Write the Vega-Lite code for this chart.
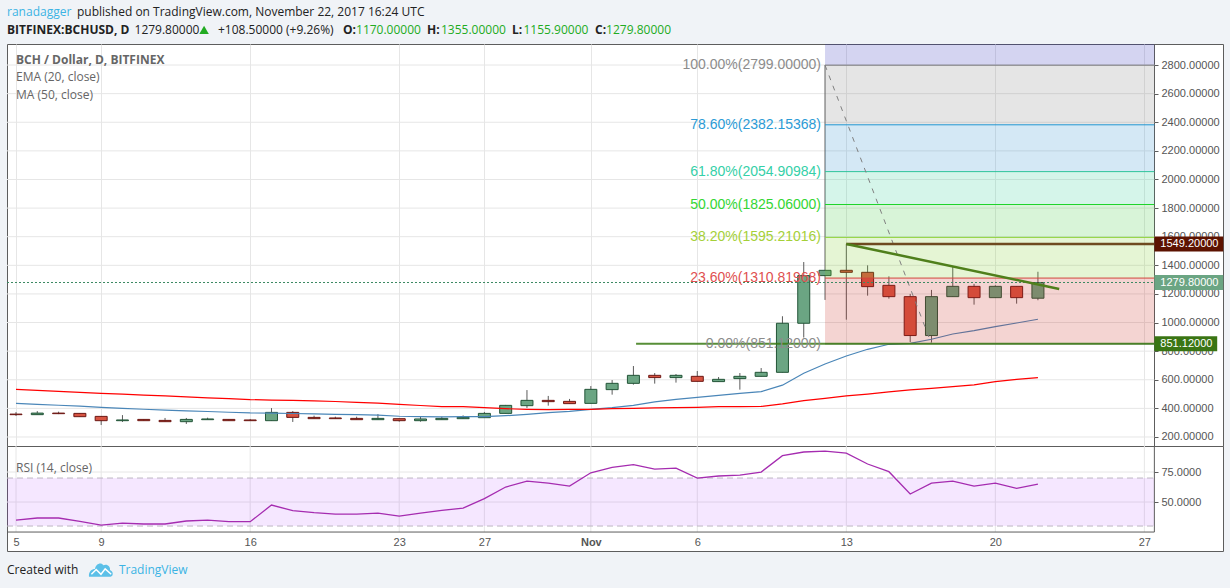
{"$schema":"https://vega.github.io/schema/vega-lite/v6.json","background":"#f0f3f7","padding":{"left":6,"top":5,"right":8,"bottom":10},"spacing":0,"bounds":"flush",
"config":{"font":"Liberation Sans","axis":{"title":null,"grid":false},"text":{"font":"Liberation Sans"}},
"datasets":{
"candles":[
{"date":"2017-10-05","open":360,"high":374,"low":347,"close":356,"dir":"down"},
{"date":"2017-10-06","open":356,"high":381,"low":356,"close":367,"dir":"up"},
{"date":"2017-10-07","open":367,"high":377,"low":360,"close":363,"dir":"down"},
{"date":"2017-10-08","open":365,"high":367,"low":340,"close":342,"dir":"down"},
{"date":"2017-10-09","open":344,"high":346,"low":284,"close":314,"dir":"down"},
{"date":"2017-10-10","open":314,"high":353,"low":305,"close":319,"dir":"up"},
{"date":"2017-10-11","open":323,"high":324,"low":313,"close":314,"dir":"down"},
{"date":"2017-10-12","open":316,"high":333,"low":307,"close":307,"dir":"down"},
{"date":"2017-10-13","open":307,"high":333,"low":291,"close":323,"dir":"up"},
{"date":"2017-10-14","open":321,"high":335,"low":320,"close":326,"dir":"up"},
{"date":"2017-10-15","open":323,"high":324,"low":313,"close":314,"dir":"down"},
{"date":"2017-10-16","open":319,"high":326,"low":313,"close":314,"dir":"down"},
{"date":"2017-10-17","open":314,"high":402,"low":314,"close":372,"dir":"up"},
{"date":"2017-10-18","open":372,"high":381,"low":305,"close":337,"dir":"down"},
{"date":"2017-10-19","open":337,"high":349,"low":327,"close":328,"dir":"down"},
{"date":"2017-10-20","open":333,"high":342,"low":327,"close":328,"dir":"down"},
{"date":"2017-10-21","open":330,"high":342,"low":320,"close":321,"dir":"down"},
{"date":"2017-10-22","open":321,"high":360,"low":319,"close":330,"dir":"up"},
{"date":"2017-10-23","open":328,"high":329,"low":307,"close":314,"dir":"down"},
{"date":"2017-10-24","open":314,"high":342,"low":307,"close":326,"dir":"up"},
{"date":"2017-10-25","open":321,"high":342,"low":320,"close":330,"dir":"up"},
{"date":"2017-10-26","open":328,"high":351,"low":327,"close":337,"dir":"up"},
{"date":"2017-10-27","open":335,"high":375,"low":334,"close":365,"dir":"up"},
{"date":"2017-10-28","open":365,"high":424,"low":364,"close":421,"dir":"up"},
{"date":"2017-10-29","open":419,"high":528,"low":403,"close":456,"dir":"up"},
{"date":"2017-10-30","open":456,"high":487,"low":419,"close":447,"dir":"down"},
{"date":"2017-10-31","open":449,"high":466,"low":432,"close":433,"dir":"down"},
{"date":"2017-11-01","open":435,"high":556,"low":434,"close":533,"dir":"up"},
{"date":"2017-11-02","open":531,"high":598,"low":496,"close":575,"dir":"up"},
{"date":"2017-11-03","open":575,"high":696,"low":566,"close":631,"dir":"up"},
{"date":"2017-11-04","open":631,"high":647,"low":573,"close":615,"dir":"down"},
{"date":"2017-11-05","open":615,"high":640,"low":580,"close":631,"dir":"up"},
{"date":"2017-11-06","open":624,"high":661,"low":588,"close":589,"dir":"down"},
{"date":"2017-11-07","open":587,"high":619,"low":586,"close":603,"dir":"up"},
{"date":"2017-11-08","open":608,"high":647,"low":531,"close":624,"dir":"up"},
{"date":"2017-11-09","open":624,"high":682,"low":623,"close":652,"dir":"up"},
{"date":"2017-11-10","open":652,"high":1044,"low":651,"close":995,"dir":"up"},
{"date":"2017-11-11","open":995,"high":1423,"low":895,"close":1328,"dir":"up"},
{"date":"2017-11-12","open":1328,"high":2799,"low":1158,"close":1365,"dir":"up"},
{"date":"2017-11-13","open":1365,"high":1549,"low":1020,"close":1351,"dir":"down"},
{"date":"2017-11-14","open":1351,"high":1400,"low":1188,"close":1251,"dir":"down"},
{"date":"2017-11-15","open":1260,"high":1323,"low":1167,"close":1181,"dir":"down"},
{"date":"2017-11-16","open":1181,"high":1200,"low":864,"close":909,"dir":"down"},
{"date":"2017-11-17","open":909,"high":1228,"low":860,"close":1181,"dir":"up"},
{"date":"2017-11-18","open":1181,"high":1391,"low":1180,"close":1253,"dir":"up"},
{"date":"2017-11-19","open":1253,"high":1270,"low":1125,"close":1174,"dir":"down"},
{"date":"2017-11-20","open":1174,"high":1260,"low":1173,"close":1253,"dir":"up"},
{"date":"2017-11-21","open":1253,"high":1254,"low":1132,"close":1174,"dir":"down"},
{"date":"2017-11-22","open":1170,"high":1355,"low":1155.9,"close":1279.8,"dir":"up"}],
"ema":[
{"date":"2017-10-05","price":435},{"date":"2017-10-06","price":428},{"date":"2017-10-07","price":422},{"date":"2017-10-08","price":416},{"date":"2017-10-09","price":407},{"date":"2017-10-10","price":400},{"date":"2017-10-11","price":394},{"date":"2017-10-12","price":388},{"date":"2017-10-13","price":383},{"date":"2017-10-14","price":378},{"date":"2017-10-15","price":373},{"date":"2017-10-16","price":368},{"date":"2017-10-17","price":367},{"date":"2017-10-18","price":364},{"date":"2017-10-19","price":361},{"date":"2017-10-20","price":358},{"date":"2017-10-21","price":356},{"date":"2017-10-22","price":353},{"date":"2017-10-23","price":345},{"date":"2017-10-24","price":342},{"date":"2017-10-25","price":341},{"date":"2017-10-26","price":342},{"date":"2017-10-27","price":342},{"date":"2017-10-28","price":349},{"date":"2017-10-29","price":358},{"date":"2017-10-30","price":370},{"date":"2017-10-31","price":379},{"date":"2017-11-01","price":393},{"date":"2017-11-02","price":405},{"date":"2017-11-03","price":421},{"date":"2017-11-04","price":445},{"date":"2017-11-05","price":463},{"date":"2017-11-06","price":477},{"date":"2017-11-07","price":491},{"date":"2017-11-08","price":505},{"date":"2017-11-09","price":517},{"date":"2017-11-10","price":562},{"date":"2017-11-11","price":645},{"date":"2017-11-12","price":710},{"date":"2017-11-13","price":766},{"date":"2017-11-14","price":813},{"date":"2017-11-15","price":848},{"date":"2017-11-16","price":855},{"date":"2017-11-17","price":883},{"date":"2017-11-18","price":920},{"date":"2017-11-19","price":943},{"date":"2017-11-20","price":971},{"date":"2017-11-21","price":997},{"date":"2017-11-22","price":1023}],
"ma":[
{"date":"2017-10-05","price":533},{"date":"2017-10-06","price":526},{"date":"2017-10-07","price":519},{"date":"2017-10-08","price":512},{"date":"2017-10-09","price":505},{"date":"2017-10-10","price":499},{"date":"2017-10-11","price":493},{"date":"2017-10-12","price":487},{"date":"2017-10-13","price":480},{"date":"2017-10-14","price":474},{"date":"2017-10-15","price":468},{"date":"2017-10-16","price":461},{"date":"2017-10-17","price":458},{"date":"2017-10-18","price":456},{"date":"2017-10-19","price":452},{"date":"2017-10-20","price":448},{"date":"2017-10-21","price":442},{"date":"2017-10-22","price":437},{"date":"2017-10-23","price":428},{"date":"2017-10-24","price":420},{"date":"2017-10-25","price":412},{"date":"2017-10-26","price":412},{"date":"2017-10-27","price":405},{"date":"2017-10-28","price":398},{"date":"2017-10-29","price":393},{"date":"2017-10-30","price":391},{"date":"2017-10-31","price":393},{"date":"2017-11-01","price":393},{"date":"2017-11-02","price":398},{"date":"2017-11-03","price":400},{"date":"2017-11-04","price":403},{"date":"2017-11-05","price":405},{"date":"2017-11-06","price":407},{"date":"2017-11-07","price":412},{"date":"2017-11-08","price":412},{"date":"2017-11-09","price":414},{"date":"2017-11-10","price":431},{"date":"2017-11-11","price":454},{"date":"2017-11-12","price":470},{"date":"2017-11-13","price":487},{"date":"2017-11-14","price":500},{"date":"2017-11-15","price":515},{"date":"2017-11-16","price":529},{"date":"2017-11-17","price":540},{"date":"2017-11-18","price":552},{"date":"2017-11-19","price":564},{"date":"2017-11-20","price":587},{"date":"2017-11-21","price":603},{"date":"2017-11-22","price":615}],
"fib":[
{"date":"2017-11-12","end":"2017-11-27T11:16:00Z","level":"ext","price":2947,"lo":2799},
{"date":"2017-11-12","end":"2017-11-27T11:16:00Z","level":"100","price":2799,"lo":2382.15368,"label":"100.00%(2799.00000)"},
{"date":"2017-11-12","end":"2017-11-27T11:16:00Z","level":"78.6","price":2382.15368,"lo":2054.90984,"label":"78.60%(2382.15368)"},
{"date":"2017-11-12","end":"2017-11-27T11:16:00Z","level":"61.8","price":2054.90984,"lo":1825.06,"label":"61.80%(2054.90984)"},
{"date":"2017-11-12","end":"2017-11-27T11:16:00Z","level":"50","price":1825.06,"lo":1595.21016,"label":"50.00%(1825.06000)"},
{"date":"2017-11-12","end":"2017-11-27T11:16:00Z","level":"38.2","price":1595.21016,"lo":1310.81968,"label":"38.20%(1595.21016)"},
{"date":"2017-11-12","end":"2017-11-27T11:16:00Z","level":"23.6","price":1310.81968,"lo":851.12,"label":"23.60%(1310.81968)"},
{"date":"2017-11-12","end":"2017-11-27T11:16:00Z","level":"0","price":851.12,"lo":851.12,"label":"0.00%(851.12000)"}],
"hgrid":[
{"date":"2017-10-04T13:51:00Z","end":"2017-11-27T11:16:00Z","price":200},{"date":"2017-10-04T13:51:00Z","end":"2017-11-27T11:16:00Z","price":400},{"date":"2017-10-04T13:51:00Z","end":"2017-11-27T11:16:00Z","price":600},{"date":"2017-10-04T13:51:00Z","end":"2017-11-27T11:16:00Z","price":800},{"date":"2017-10-04T13:51:00Z","end":"2017-11-27T11:16:00Z","price":1000},{"date":"2017-10-04T13:51:00Z","end":"2017-11-27T11:16:00Z","price":1200},{"date":"2017-10-04T13:51:00Z","end":"2017-11-27T11:16:00Z","price":1400},{"date":"2017-10-04T13:51:00Z","end":"2017-11-27T11:16:00Z","price":1600},{"date":"2017-10-04T13:51:00Z","end":"2017-11-27T11:16:00Z","price":1800},{"date":"2017-10-04T13:51:00Z","end":"2017-11-27T11:16:00Z","price":2000},{"date":"2017-10-04T13:51:00Z","end":"2017-11-27T11:16:00Z","price":2200},{"date":"2017-10-04T13:51:00Z","end":"2017-11-27T11:16:00Z","price":2400},{"date":"2017-10-04T13:51:00Z","end":"2017-11-27T11:16:00Z","price":2600},{"date":"2017-10-04T13:51:00Z","end":"2017-11-27T11:16:00Z","price":2800}],
"levels":[
{"date":"2017-11-13","end":"2017-11-27T11:16:00Z","price":1549.2,"boxEnd":"2017-11-30T16:54:00Z","boxStart":"2017-11-27T11:16:00Z","tag":"res"},
{"date":"2017-10-04T13:51:00Z","end":"2017-11-27T11:16:00Z","price":1279.8,"boxEnd":"2017-11-30T16:54:00Z","boxStart":"2017-11-27T11:16:00Z","tag":"last"},
{"date":"2017-11-03T03:00:00Z","end":"2017-11-27T11:16:00Z","price":851.12,"boxEnd":"2017-11-30T10:06:00Z","boxStart":"2017-11-27T11:16:00Z","tag":"sup"}],
"trend":[{"date":"2017-11-13","price":1549.2},{"date":"2017-11-23","price":1235}],
"swing":[{"date":"2017-11-12","price":2799},{"date":"2017-11-17","price":851.12}],
"topText":[
{"date":"2017-10-04T13:54:00Z","price":3170,"text":"ranadagger","kind":"name"},
{"date":"2017-10-07T20:46:00Z","price":3170,"text":"published on TradingView.com, November 22, 2017 16:24 UTC","kind":"dark"},
{"date":"2017-10-10T13:36:00Z","price":3045,"text":"1279.80000","kind":"dark"},
{"date":"2017-10-14T11:42:00Z","price":3045,"text":"+108.50000 (+9.26%)","kind":"dark"},
{"date":"2017-10-20T23:18:00Z","price":3045,"text":"1170.00000","kind":"green"},
{"date":"2017-10-24T23:06:00Z","price":3045,"text":"1355.00000","kind":"green"},
{"date":"2017-10-28T20:06:00Z","price":3045,"text":"1155.90000","kind":"green"},
{"date":"2017-11-01T17:12:00Z","price":3045,"text":"1279.80000","kind":"green"},
{"date":"2017-10-05T00:00:00Z","price":2716,"text":"EMA (20, close)","kind":"grey"},
{"date":"2017-10-05T00:00:00Z","price":2590,"text":"MA (50, close)","kind":"grey"}],
"boldText":[
{"date":"2017-10-04T13:54:00Z","price":3045,"text":"BITFINEX:BCHUSD, D","kind":"dark"},
{"date":"2017-10-20T08:42:00Z","price":3045,"text":"O:","kind":"dark"},
{"date":"2017-10-24T07:24:00Z","price":3045,"text":"H:","kind":"dark"},
{"date":"2017-10-28T07:12:00Z","price":3045,"text":"L:","kind":"dark"},
{"date":"2017-11-01T04:48:00Z","price":3045,"text":"C:","kind":"dark"},
{"date":"2017-10-05T00:00:00Z","price":2835,"text":"BCH / Dollar, D, BITFINEX","kind":"grey"}],
"rsi":[
{"date":"2017-10-05","rsi":35},{"date":"2017-10-06","rsi":36.7},{"date":"2017-10-07","rsi":36.7},{"date":"2017-10-08","rsi":33.9},{"date":"2017-10-09","rsi":30.8},{"date":"2017-10-10","rsi":32.5},{"date":"2017-10-11","rsi":31.7},{"date":"2017-10-12","rsi":31.7},{"date":"2017-10-13","rsi":34.2},{"date":"2017-10-14","rsi":35},{"date":"2017-10-15","rsi":33.6},{"date":"2017-10-16","rsi":33.6},{"date":"2017-10-17","rsi":47.5},{"date":"2017-10-18","rsi":42.8},{"date":"2017-10-19","rsi":41.1},{"date":"2017-10-20","rsi":40},{"date":"2017-10-21","rsi":40},{"date":"2017-10-22","rsi":40.8},{"date":"2017-10-23","rsi":38.3},{"date":"2017-10-24","rsi":40.8},{"date":"2017-10-25","rsi":43},{"date":"2017-10-26","rsi":45},{"date":"2017-10-27","rsi":52.8},{"date":"2017-10-28","rsi":62.5},{"date":"2017-10-29","rsi":67.5},{"date":"2017-10-30","rsi":65.8},{"date":"2017-10-31","rsi":63.3},{"date":"2017-11-01","rsi":74.4},{"date":"2017-11-02","rsi":78.9},{"date":"2017-11-03","rsi":81.1},{"date":"2017-11-04","rsi":77.5},{"date":"2017-11-05","rsi":78.3},{"date":"2017-11-06","rsi":70},{"date":"2017-11-07","rsi":71.7},{"date":"2017-11-08","rsi":72.5},{"date":"2017-11-09","rsi":75},{"date":"2017-11-10","rsi":88.6},{"date":"2017-11-11","rsi":91.7},{"date":"2017-11-12","rsi":92.5},{"date":"2017-11-13","rsi":90.8},{"date":"2017-11-14","rsi":81.7},{"date":"2017-11-15","rsi":75.3},{"date":"2017-11-16","rsi":56.7},{"date":"2017-11-17","rsi":65.8},{"date":"2017-11-18","rsi":67.5},{"date":"2017-11-19","rsi":63.3},{"date":"2017-11-20","rsi":65.8},{"date":"2017-11-21","rsi":61.4},{"date":"2017-11-22","rsi":65}],
"rsiBand":[{"date":"2017-10-04T13:51:00Z","end":"2017-11-27T11:16:00Z","rsi":70,"lo":30}],
"rsiGrid":[{"date":"2017-10-04T13:51:00Z","end":"2017-11-27T11:16:00Z","rsi":75},{"date":"2017-10-04T13:51:00Z","end":"2017-11-27T11:16:00Z","rsi":50}],
"rsiDash":[{"date":"2017-10-04T13:51:00Z","end":"2017-11-27T11:16:00Z","rsi":70},{"date":"2017-10-04T13:51:00Z","end":"2017-11-27T11:16:00Z","rsi":30}],
"rsiBase":[{"date":"2017-10-04T13:51:00Z","end":"2017-11-27T11:16:00Z","rsi":25}],
"xticks":[{"date":"2017-10-05","rsi":25,"hi":96.7},{"date":"2017-10-09","rsi":25,"hi":96.7},{"date":"2017-10-16","rsi":25,"hi":96.7},{"date":"2017-10-23","rsi":25,"hi":96.7},{"date":"2017-10-27","rsi":25,"hi":96.7},{"date":"2017-11-01","rsi":25,"hi":96.7},{"date":"2017-11-06","rsi":25,"hi":96.7},{"date":"2017-11-13","rsi":25,"hi":96.7},{"date":"2017-11-20","rsi":25,"hi":96.7},{"date":"2017-11-27","rsi":25,"hi":96.7}],
"divider":[{"date":"2017-11-27T11:16:00Z","rsi":25,"hi":96.7}],
"rsiText":[
{"date":"2017-10-05T00:00:00Z","rsi":78.3,"text":"RSI (14, close)","kind":"grey"},
{"date":"2017-10-04T13:54:00Z","rsi":-6.7,"text":"Created with","kind":"dark"},
{"date":"2017-10-09T20:00:00Z","rsi":-6.7,"text":"TradingView","kind":"name"}],
"logo":[{"date":"2017-10-08T23:48:00Z","rsi":-6.7}]
},
"resolve":{"scale":{"x":"independent"}},
"vconcat":[
{"width":1216,"height":402,"view":{"stroke":"#5d5d5d","strokeWidth":1,"fill":"#ffffff"},
"resolve":{"scale":{"color":"independent","fill":"independent","stroke":"independent"}},
"encoding":{
"x":{"field":"date","type":"temporal","scale":{"type":"utc","domain":[1507125060000,1512059860000],"nice":false,"padding":0},
 "axis":{"title":null,"values":[1507161600000,1507507200000,1508112000000,1508716800000,1509062400000,1509494400000,1509926400000,1510531200000,1511136000000,1511740800000],"grid":true,"gridColor":"#e6e6e6","labels":false,"ticks":false,"domain":false}},
"y":{"field":"price","type":"quantitative","scale":{"domain":[137,2947],"nice":false,"zero":false,"padding":0},
 "axis":{"title":null,"orient":"right","offset":-69,"values":[200,400,600,800,1000,1200,1400,1600,1800,2000,2200,2400,2600,2800],"format":".5f","labelColor":"#555555","labelFontSize":11,"tickColor":"#5d5d5d","tickSize":4,"labelPadding":3,"domainColor":"#5d5d5d"}}},
"layer":[
{"data":{"name":"hgrid","format":{"parse":{"end":"date","date":"date"}}},"mark":{"type":"rule","color":"#e6e6e6","strokeWidth":1},"encoding":{"x2":{"field":"end"}}},
{"data":{"name":"candles"},"mark":{"type":"rule","color":"#5b5b5b","strokeWidth":1},"encoding":{"y":{"field":"low","type":"quantitative"},"y2":{"field":"high"}}},
{"data":{"name":"candles"},"mark":{"type":"bar","size":12,"strokeWidth":1},"encoding":{"y":{"field":"open","type":"quantitative"},"y2":{"field":"close"},"fill":{"field":"dir","scale":{"domain":["up","down"],"range":["#6ba583","#d75442"]},"legend":null},"stroke":{"field":"dir","scale":{"domain":["up","down"],"range":["#225437","#6b1713"]},"legend":null}}},
{"data":{"name":"ema"},"mark":{"type":"line","color":"#4a86b8","strokeWidth":1.2}},
{"data":{"name":"ma"},"mark":{"type":"line","color":"#ff0000","strokeWidth":1.2}},
{"data":{"name":"fib","format":{"parse":{"end":"date","date":"date"}}},"mark":{"type":"rect","opacity":0.2},"encoding":{"x2":{"field":"end"},"y2":{"field":"lo"},"color":{"field":"level","scale":{"domain":["ext","100","78.6","61.8","50","38.2","23.6","0"],"range":["#2828b9","#7d7d7d","#288ccd","#2dcd96","#3cc83c","#7dcd28","#c8281e","#7d7d7d"]},"legend":null}}},
{"data":{"name":"fib","format":{"parse":{"end":"date","date":"date"}}},"transform":[{"filter":"datum.level!='ext'"}],"mark":{"type":"rule","strokeWidth":1},"encoding":{"x2":{"field":"end"},"color":{"field":"level","scale":{"domain":["100","78.6","61.8","50","38.2","23.6","0"],"range":["#787878","#2196d2","#2fc39a","#1fd42c","#8fd23a","#d2483c","#787878"]},"legend":null}}},
{"data":{"name":"swing"},"mark":{"type":"line","color":"#808080","strokeWidth":1,"strokeDash":[5,6]}},
{"data":{"name":"levels","format":{"parse":{"end":"date","date":"date"}}},"transform":[{"filter":"datum.tag=='last'"}],"mark":{"type":"rule","color":"#3d8a63","strokeWidth":1,"strokeDash":[2,2]},"encoding":{"x2":{"field":"end"}}},
{"data":{"name":"levels","format":{"parse":{"end":"date","date":"date"}}},"transform":[{"filter":"datum.tag=='res'"}],"mark":{"type":"rule","color":"#6e4a1f","strokeWidth":2.5},"encoding":{"x2":{"field":"end"}}},
{"data":{"name":"levels","format":{"parse":{"end":"date","date":"date"}}},"transform":[{"filter":"datum.tag=='sup'"}],"mark":{"type":"rule","color":"#3a7a14","strokeWidth":2,"opacity":0.85},"encoding":{"x2":{"field":"end"}}},
{"data":{"name":"trend"},"mark":{"type":"line","color":"#4f7f1b","strokeWidth":2.5}},
{"data":{"name":"fib"},"transform":[{"filter":"datum.level!='ext'"}],"mark":{"type":"text","align":"right","baseline":"middle","dx":-4,"fontSize":14},"encoding":{"text":{"field":"label"},"color":{"field":"level","scale":{"domain":["100","78.6","61.8","50","38.2","23.6","0"],"range":["#8c8c8c","#2b9bd6","#35d0a8","#33d633","#a5d038","#e05050","#8c8c8c"]},"legend":null}}},
{"data":{"name":"levels","format":{"parse":{"boxStart":"date","boxEnd":"date"}}},"mark":{"type":"bar","size":15,"orient":"horizontal"},"encoding":{"x":{"field":"boxStart","type":"temporal"},"x2":{"field":"boxEnd"},"color":{"field":"tag","scale":{"domain":["res","last","sup"],"range":["#5c1200","#6ba583","#3a7514"]},"legend":null}}},
{"data":{"name":"levels","format":{"parse":{"boxStart":"date"}}},"mark":{"type":"text","align":"left","baseline":"middle","dx":6,"fontSize":11,"color":"#ffffff"},"encoding":{"x":{"field":"boxStart","type":"temporal"},"text":{"field":"price","type":"quantitative","format":".5f"}}},
{"data":{"name":"topText"},"mark":{"type":"text","align":"left","baseline":"middle","font":"Open Sans","fontSize":12},"encoding":{"text":{"field":"text"},"color":{"field":"kind","scale":{"domain":["name","dark","green","grey"],"range":["#3bb3e4","#222222","#22ab22","#666666"]},"legend":null}}},
{"data":{"name":"boldText"},"mark":{"type":"text","align":"left","baseline":"middle","font":"Open Sans","fontSize":12,"fontWeight":"bold"},"encoding":{"text":{"field":"text"},"color":{"field":"kind","scale":{"domain":["dark","grey"],"range":["#222222","#666666"]},"legend":null}}},
{"data":{"values":[{"date":"2017-10-13T20:00:00Z","price":3045}]},"mark":{"type":"point","shape":"triangle-up","filled":true,"size":90,"color":"#22ab22","opacity":1}}
]},
{"width":1216,"height":105,"view":{"stroke":"#5d5d5d","strokeWidth":1,"fill":"#ffffff"},
"encoding":{
"x":{"field":"date","type":"temporal","scale":{"type":"utc","domain":[1507125060000,1512059860000],"nice":false,"padding":0},
 "axis":{"title":null,"orient":"bottom","offset":-19,"values":[1507161600000,1507507200000,1508112000000,1508716800000,1509062400000,1509494400000,1509926400000,1510531200000,1511136000000,1511740800000],"labelExpr":"utcdate(datum.value)==1?'Nov':utcFormat(datum.value,'%-d')","labelFontWeight":{"condition":{"test":"utcdate(datum.value)==1","value":"bold"},"value":"normal"},"labelColor":"#555555","labelFontSize":11,"ticks":false,"domain":false,"labelPadding":4,"labelOverlap":false,"grid":false}},
"y":{"field":"rsi","type":"quantitative","scale":{"domain":[9.2,96.7],"nice":false,"zero":false,"padding":0},
 "axis":{"title":null,"orient":"right","offset":-69,"values":[50,75],"format":".4f","labelColor":"#555555","labelFontSize":11,"tickColor":"#5d5d5d","tickSize":4,"labelPadding":3,"domain":false}}},
"layer":[
{"data":{"name":"rsiGrid","format":{"parse":{"end":"date","date":"date"}}},"mark":{"type":"rule","color":"#e6e6e6","strokeWidth":1},"encoding":{"x2":{"field":"end"}}},
{"data":{"name":"xticks"},"mark":{"type":"rule","color":"#e6e6e6","strokeWidth":1},"encoding":{"y2":{"field":"hi"}}},
{"data":{"name":"rsiBand","format":{"parse":{"end":"date","date":"date"}}},"mark":{"type":"rect","color":"#9915ff","opacity":0.1},"encoding":{"x2":{"field":"end"},"y2":{"field":"lo"}}},
{"data":{"name":"rsiDash","format":{"parse":{"end":"date","date":"date"}}},"mark":{"type":"rule","color":"#bdb6c4","strokeWidth":1,"strokeDash":[6,4]},"encoding":{"x2":{"field":"end"}}},
{"data":{"name":"rsi"},"mark":{"type":"line","color":"#a52cb0","strokeWidth":1.3}},
{"data":{"name":"rsiBase","format":{"parse":{"end":"date","date":"date"}}},"mark":{"type":"rule","color":"#5d5d5d","strokeWidth":1},"encoding":{"x2":{"field":"end"}}},
{"data":{"name":"divider","format":{"parse":{"date":"date"}}},"mark":{"type":"rule","color":"#5d5d5d","strokeWidth":1},"encoding":{"y2":{"field":"hi"}}},
{"data":{"name":"rsiText"},"mark":{"type":"text","align":"left","baseline":"middle","font":"Open Sans","fontSize":12},"encoding":{"text":{"field":"text"},"color":{"field":"kind","scale":{"domain":["name","dark","green","grey"],"range":["#3bb3e4","#222222","#22ab22","#666666"]},"legend":null}}},
{"data":{"name":"logo"},"mark":{"type":"point","filled":true,"size":576,"color":"#5cc0e8","opacity":1,"shape":"M-1,0.55 C-1.05,0.1 -0.75,-0.1 -0.5,-0.1 C-0.45,-0.5 0,-0.7 0.2,-0.4 C0.5,-0.55 0.8,-0.3 0.75,0 C1.05,0.1 1.05,0.55 0.8,0.55 Z"}},
{"data":{"name":"logo"},"mark":{"type":"point","filled":false,"size":576,"color":"#ffffff","strokeWidth":1.5,"opacity":1,"shape":"M-0.8,0.35 L-0.4,-0.05 L0,0.35 L0.35,-0.1 L0.85,0.35"}}
]}
]}
